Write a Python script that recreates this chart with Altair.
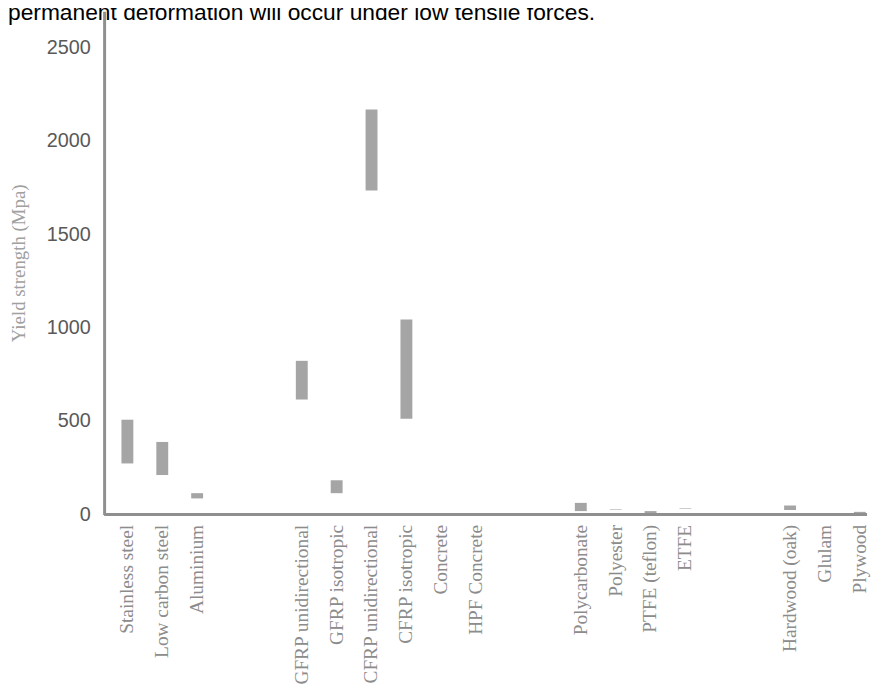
import altair as alt
import pandas as pd

title_text = "permanent deformation will occur under low tensile forces."

# x slots (blank entries are empty category slots)
slots = ["Stainless steel", "Low carbon steel", "Aluminium", " ", "  ",
         "GFRP unidirectional", "GFRP isotropic", "CFRP unidirectional", "CFRP isotropic",
         "Concrete", "HPF Concrete", "   ", "    ",
         "Polycarbonate", "Polyester", "PTFE (teflon)", "ETFE", "     ", "      ",
         "Hardwood (oak)", "Glulam", "Plywood"]

materials = ["Stainless steel", "Low carbon steel", "Aluminium",
             "GFRP unidirectional", "GFRP isotropic", "CFRP unidirectional", "CFRP isotropic",
             "Polycarbonate", "Polyester", "PTFE (teflon)", "ETFE",
             "Hardwood (oak)", "Plywood"]
low_mpa = [273, 211, 86, 615, 114, 1733, 512, 18, 25, 8, 30, 24, 7]
high_mpa = [507, 388, 114, 822, 183, 2167, 1043, 62, 28, 18, 33, 48, 14]

y_ticks = [0, 500, 1000, 1500, 2000, 2500]

df = pd.DataFrame({"material": materials, "low": low_mpa, "high": high_mpa})

W, H = 770, 508

bars = alt.Chart(df).mark_bar(width=12, color="#a5a5a5").encode(
    x=alt.X("material:N", sort=slots,
            scale=alt.Scale(domain=slots, range=[5.9, 780.3], paddingInner=0, paddingOuter=0),
            axis=alt.Axis(title=None, domain=False, ticks=False, labelAngle=270,
                          labelAlign="right", labelBaseline="middle", labelPadding=10,
                          labelFont="Liberation Serif", labelFontSize=19.5,
                          labelColor="#8c8c8c", labelOverlap=False, labelLimit=300)),
    y=alt.Y("low:Q",
            scale=alt.Scale(domain=[0, 2693], nice=False, zero=True),
            axis=alt.Axis(title="Yield strength (Mpa)", values=y_ticks, format="d", grid=False,
                          ticks=False, labelPadding=14, domain=True,
                          domainColor="#8f8f8f", domainWidth=3,
                          labelFont="Liberation Sans", labelFontSize=20, labelColor="#595959",
                          titleFont="Liberation Serif", titleFontSize=19, titleFontWeight="normal",
                          titleColor="#a0a0a0", titleAngle=270, titleX=-80, titleY=254,
                          titleAlign="center", titleBaseline="alphabetic")),
    y2="high:Q",
)

xrule = alt.Chart(pd.DataFrame({"a": [0]})).mark_rule(color="#8f8f8f", strokeWidth=3).encode(
    x=alt.value(0), x2=alt.value(W), y=alt.value(H)
)

title = alt.Chart(pd.DataFrame({"t": [title_text]})).mark_text(
    align="left", baseline="alphabetic", font="Liberation Sans", fontSize=23, color="#000000"
).encode(text="t:N", x=alt.value(-97), y=alt.value(9))

chart = alt.layer(bars, xrule, title).properties(
    width=W, height=H,
    autosize=alt.AutoSizeParams(type="none"),
    padding={"left": 97, "top": 0, "right": 5, "bottom": 175},
).configure_view(stroke=None)

chart.save("out.html", embed_options={"renderer": "svg", "actions": False})
